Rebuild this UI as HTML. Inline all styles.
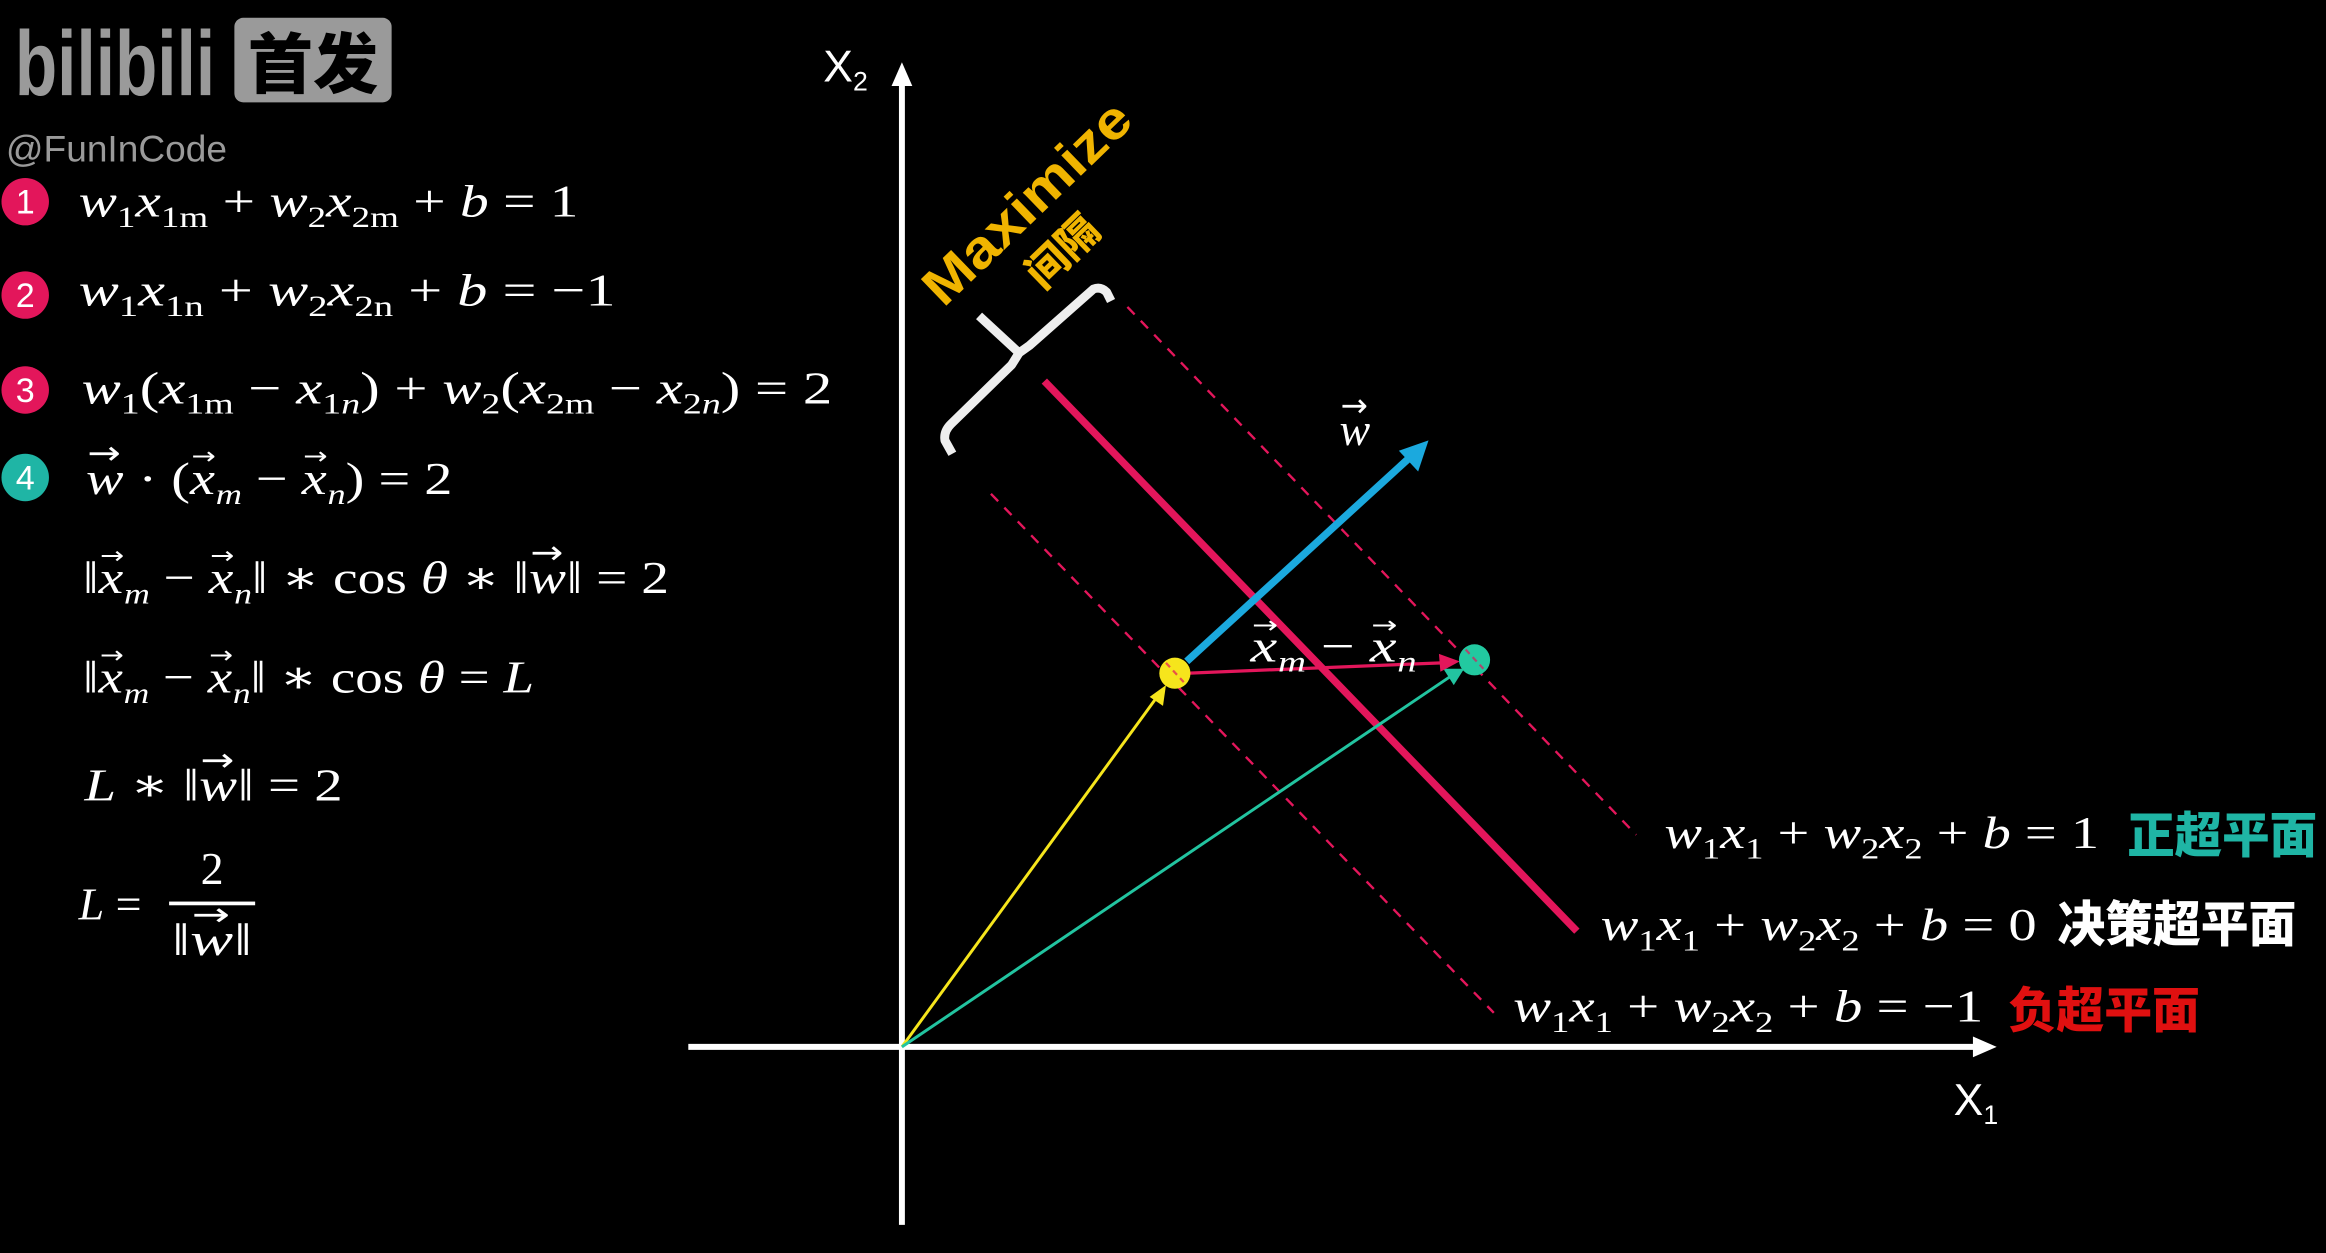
<!DOCTYPE html>
<html><head><meta charset="utf-8"><style>
html,body{margin:0;padding:0;background:#000;width:2326px;height:1253px;overflow:hidden}
svg{display:block}
.m{font-family:"Liberation Serif","DejaVu Serif",serif;font-style:italic;fill:#fff;font-size:31px}
.s{font-size:20px;font-style:normal}
.si{font-size:20px;font-style:italic}
.n{font-style:normal}
.ar{font-family:"DejaVu Sans",sans-serif;font-style:normal;font-size:16px}
.aw{font-family:"DejaVu Sans",sans-serif;font-style:normal;font-size:22px}
.cj{font-family:"Noto Sans CJK SC","WenQuanYi Zen Hei",sans-serif;font-weight:900}
.sans{font-family:"Liberation Sans",sans-serif}
</style></head><body>
<svg width="2326" height="1253" viewBox="0 0 1568 845" preserveAspectRatio="none" xmlns="http://www.w3.org/2000/svg">
<rect width="1568" height="845" fill="#000"/>
<!-- logo -->
<text x="10" y="64" class="sans" font-size="62" font-weight="bold" fill="#9a9a9a" textLength="135" lengthAdjust="spacingAndGlyphs">bilibili</text>
<rect x="158" y="12" width="106" height="57" rx="6" fill="#9a9a9a"/>
<text x="211" y="59" class="cj" font-size="44" fill="#000" text-anchor="middle">首发</text>
<text x="4" y="109" class="sans" font-size="25" fill="#9a9a9a">@FunInCode</text>

<!-- number circles -->
<g class="sans" font-size="23" fill="#fff" text-anchor="middle">
<circle cx="17" cy="136" r="16" fill="#e3165b"/><text x="17" y="144">1</text>
<circle cx="17" cy="199" r="16" fill="#e3165b"/><text x="17" y="207">2</text>
<circle cx="17" cy="263" r="16" fill="#e3165b"/><text x="17" y="271">3</text>
<circle cx="17" cy="322" r="16" fill="#1fb5a5"/><text x="17" y="330">4</text>
</g>

<!-- left equations -->
<text class="m" x="53" y="146" textLength="337" lengthAdjust="spacingAndGlyphs">w<tspan class="s" dy="7">1</tspan><tspan dy="-7">x</tspan><tspan class="s" dy="7">1m</tspan><tspan class="n" dy="-7"> + </tspan>w<tspan class="s" dy="7">2</tspan><tspan dy="-7">x</tspan><tspan class="s" dy="7">2m</tspan><tspan class="n" dy="-7"> + </tspan>b<tspan class="n"> = 1</tspan></text>
<text class="m" x="53" y="206" textLength="362" lengthAdjust="spacingAndGlyphs">w<tspan class="s" dy="7">1</tspan><tspan dy="-7">x</tspan><tspan class="s" dy="7">1n</tspan><tspan class="n" dy="-7">  + </tspan>w<tspan class="s" dy="7">2</tspan><tspan dy="-7">x</tspan><tspan class="s" dy="7">2n</tspan><tspan class="n" dy="-7"> +  </tspan>b<tspan class="n"> = −1</tspan></text>
<text class="m" x="55" y="272" textLength="506" lengthAdjust="spacingAndGlyphs">w<tspan class="s" dy="7">1</tspan><tspan class="n" dy="-7">(</tspan>x<tspan class="s" dy="7">1m</tspan><tspan class="n" dy="-7"> − </tspan>x<tspan class="s" dy="7">1</tspan><tspan class="si">n</tspan><tspan class="n" dy="-7">) + </tspan>w<tspan class="s" dy="7">2</tspan><tspan class="n" dy="-7">(</tspan>x<tspan class="s" dy="7">2m</tspan><tspan class="n" dy="-7"> − </tspan>x<tspan class="s" dy="7">2</tspan><tspan class="si">n</tspan><tspan class="n" dy="-7">) = 2</tspan></text>

<text class="m" x="58" y="333" textLength="247" lengthAdjust="spacingAndGlyphs">w<tspan class="aw" dx="-20" dy="-20">→</tspan><tspan class="n" dx="2" dy="20"> · (</tspan>x<tspan class="ar" dx="-13" dy="-20">→</tspan><tspan class="si" dy="27">m</tspan><tspan class="n" dy="-7"> − </tspan>x<tspan class="ar" dx="-13" dy="-20">→</tspan><tspan class="si" dy="27">n</tspan><tspan class="n" dy="-7">) = 2</tspan></text>

<text class="m" x="56" y="400" textLength="395" lengthAdjust="spacingAndGlyphs"><tspan class="n">‖</tspan>x<tspan class="ar" dx="-13" dy="-20">→</tspan><tspan class="si" dy="27">m</tspan><tspan class="n" dy="-7"> − </tspan>x<tspan class="ar" dx="-13" dy="-20">→</tspan><tspan class="si" dy="27">n</tspan><tspan class="n" dy="-7">‖ ∗ cos </tspan>θ<tspan class="n"> ∗ ‖</tspan>w<tspan class="aw" dx="-20" dy="-20">→</tspan><tspan class="n" dx="2" dy="20">‖ = 2</tspan></text>

<text class="m" x="56" y="467" textLength="304" lengthAdjust="spacingAndGlyphs"><tspan class="n">‖</tspan>x<tspan class="ar" dx="-13" dy="-20">→</tspan><tspan class="si" dy="27">m</tspan><tspan class="n" dy="-7"> − </tspan>x<tspan class="ar" dx="-13" dy="-20">→</tspan><tspan class="si" dy="27">n</tspan><tspan class="n" dy="-7">‖ ∗ cos </tspan>θ<tspan class="n"> = </tspan>L</text>

<text class="m" x="57" y="540" textLength="174" lengthAdjust="spacingAndGlyphs">L<tspan class="n">  ∗ ‖</tspan>w<tspan class="aw" dx="-20" dy="-20">→</tspan><tspan class="n" dx="2" dy="20">‖ = 2</tspan></text>

<text class="m" x="53" y="620">L<tspan class="n"> =</tspan></text>
<text class="m" x="143" y="596" text-anchor="middle" style="font-style:normal">2</text>
<rect x="114" y="608" width="58" height="2.5" fill="#fff"/>
<text class="m" x="116" y="644" textLength="54" lengthAdjust="spacingAndGlyphs"><tspan class="n">‖</tspan>w<tspan class="aw" dx="-20" dy="-20">→</tspan><tspan class="n" dx="2" dy="20">‖</tspan></text>

<!-- axes -->
<line x1="608" y1="826" x2="608" y2="56" stroke="#fff" stroke-width="4"/>
<path d="M601,58 L608,42 L615,58Z" fill="#fff"/>
<line x1="464" y1="706" x2="1332" y2="706" stroke="#fff" stroke-width="4"/>
<path d="M1330,699 L1346,706 L1330,713Z" fill="#fff"/>
<text x="555" y="55" class="sans" font-size="30" fill="#fff">X<tspan font-size="18" dy="6">2</tspan></text>
<text x="1317" y="752" class="sans" font-size="30" fill="#fff">X<tspan font-size="18" dy="6">1</tspan></text>

<!-- hyperplanes -->
<line x1="760" y1="207" x2="1103" y2="563" stroke="#e3165b" stroke-width="1.6" stroke-dasharray="7,6"/>
<line x1="668" y1="333" x2="1007" y2="683" stroke="#e3165b" stroke-width="1.6" stroke-dasharray="7,6"/>
<line x1="704" y1="257" x2="1063" y2="628" stroke="#e3165b" stroke-width="5"/>

<!-- vectors -->
<line x1="608" y1="706" x2="780" y2="470" stroke="#f6e51c" stroke-width="2"/>
<path d="M786,462 L775,470 L784,476Z" fill="#f6e51c"/>
<line x1="608" y1="706" x2="978" y2="456" stroke="#22c4a0" stroke-width="2"/>
<path d="M987,451 L973,451 L980,462Z" fill="#22c4a0"/>
<line x1="800" y1="454" x2="972" y2="447" stroke="#e3165b" stroke-width="2.2"/>
<path d="M984,446 L970,441 L971,453Z" fill="#e3165b"/>
<line x1="800" y1="446" x2="952" y2="307" stroke="#1ba9de" stroke-width="5"/>
<path d="M963,297 L943,304 L956,318Z" fill="#1ba9de"/>
<circle cx="792" cy="454" r="10.5" fill="#f6e51c"/>
<circle cx="994" cy="445" r="10.5" fill="#22c9a0"/>
<line x1="786" y1="447" x2="798" y2="460" stroke="#e3165b" stroke-width="1.5" stroke-dasharray="4,3" opacity="0.7"/>
<line x1="988" y1="438" x2="1000" y2="451" stroke="#e3165b" stroke-width="1.5" stroke-dasharray="4,3" opacity="0.7"/>

<text class="m" x="903" y="300" font-size="30">w<tspan class="aw" dx="-20" dy="-19">→</tspan></text>
<text class="m" x="843" y="446" font-size="31" textLength="112" lengthAdjust="spacingAndGlyphs">x<tspan class="ar" dx="-13" dy="-19">→</tspan><tspan class="si" dy="26">m</tspan><tspan class="n" dy="-7"> − </tspan>x<tspan class="ar" dx="-13" dy="-19">→</tspan><tspan class="si" dy="26">n</tspan></text>

<!-- bracket -->
<path d="M642,306 L637,297 Q636,291 641,286 L682,246 L687,238 L694,233 L737,195 Q742,193 746,197 L749,203" fill="none" stroke="#eee" stroke-width="6" stroke-linejoin="round"/>
<path d="M687,238 L660,213" fill="none" stroke="#eee" stroke-width="6"/>
<text transform="translate(636,208) rotate(-44)" class="sans" font-size="36" font-weight="bold" fill="#f0b400" textLength="180" lengthAdjust="spacingAndGlyphs">Maximize</text>
<text transform="translate(703,196) rotate(-44)" class="cj" font-size="28" fill="#f0b400">间隔</text>

<!-- right labels -->
<text class="m" x="1122" y="572" textLength="293" lengthAdjust="spacingAndGlyphs">w<tspan class="s" dy="7">1</tspan><tspan dy="-7">x</tspan><tspan class="s" dy="7">1</tspan><tspan class="n" dy="-7"> + </tspan>w<tspan class="s" dy="7">2</tspan><tspan dy="-7">x</tspan><tspan class="s" dy="7">2</tspan><tspan class="n" dy="-7"> + </tspan>b<tspan class="n"> = 1</tspan></text>
<text class="cj" x="1434" y="575" font-size="33" fill="#1fb5a5" textLength="128" lengthAdjust="spacingAndGlyphs">正超平面</text>
<text class="m" x="1079" y="634" textLength="294" lengthAdjust="spacingAndGlyphs">w<tspan class="s" dy="7">1</tspan><tspan dy="-7">x</tspan><tspan class="s" dy="7">1</tspan><tspan class="n" dy="-7"> + </tspan>w<tspan class="s" dy="7">2</tspan><tspan dy="-7">x</tspan><tspan class="s" dy="7">2</tspan><tspan class="n" dy="-7"> + </tspan>b<tspan class="n"> = 0</tspan></text>
<text class="cj" x="1387" y="635" font-size="33" fill="#fff" textLength="161" lengthAdjust="spacingAndGlyphs">决策超平面</text>
<text class="m" x="1020" y="689" textLength="317" lengthAdjust="spacingAndGlyphs">w<tspan class="s" dy="7">1</tspan><tspan dy="-7">x</tspan><tspan class="s" dy="7">1</tspan><tspan class="n" dy="-7"> + </tspan>w<tspan class="s" dy="7">2</tspan><tspan dy="-7">x</tspan><tspan class="s" dy="7">2</tspan><tspan class="n" dy="-7"> + </tspan>b<tspan class="n"> = −1</tspan></text>
<text class="cj" x="1354" y="693" font-size="33" fill="#e01010" textLength="129" lengthAdjust="spacingAndGlyphs">负超平面</text>
</svg>
</body></html>
